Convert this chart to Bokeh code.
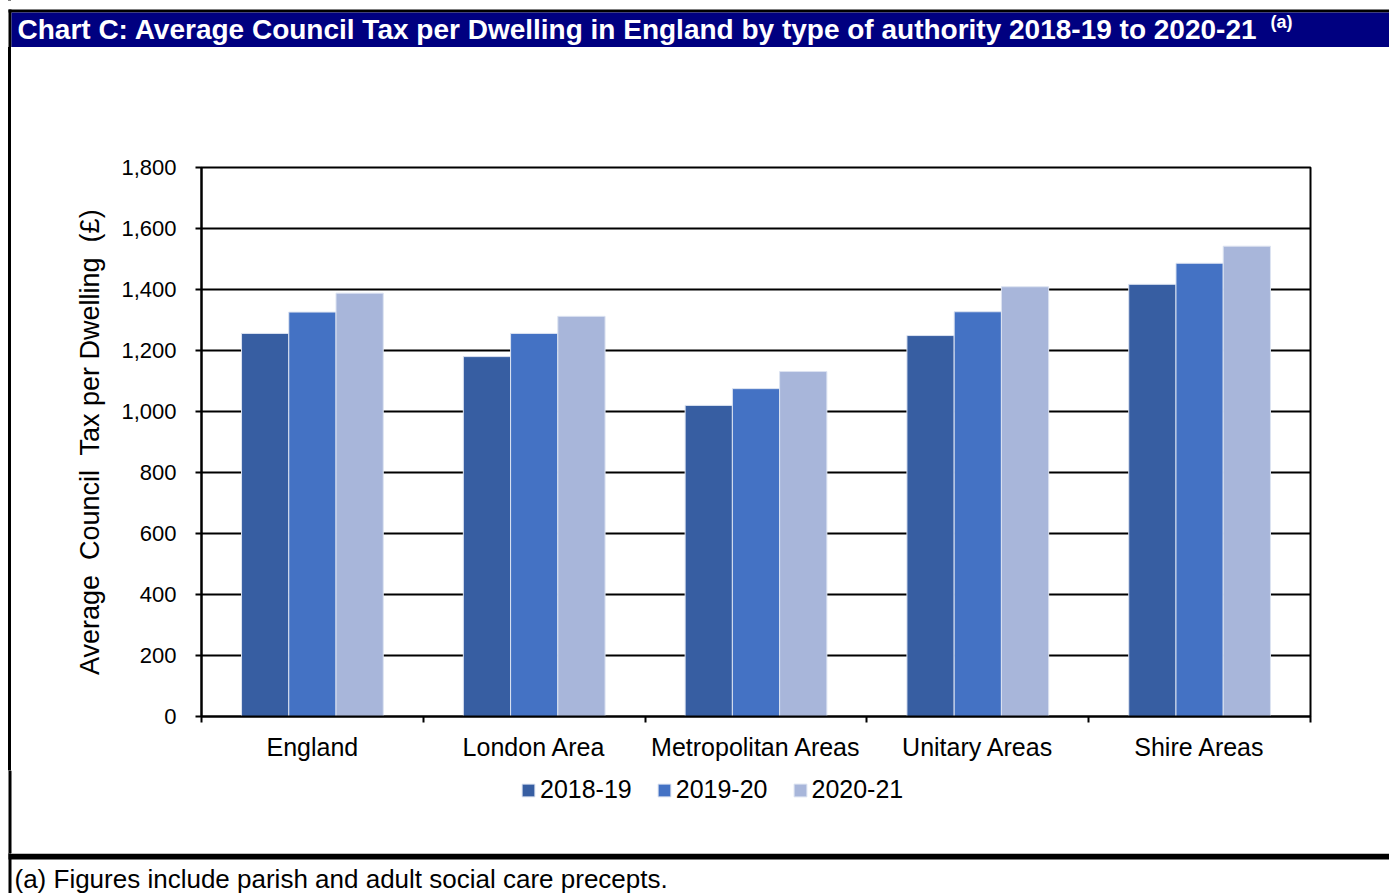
from bokeh.plotting import figure
from bokeh.layouts import column
from bokeh.models import (Range1d, FixedTicker, NumeralTickFormatter, Legend, LegendItem,
                          ColumnDataSource)
from bokeh.core.properties import value
from bokeh.embed import file_html
from bokeh.resources import INLINE

# ---- data ----
categories = ["England", "London Area", "Metropolitan Areas", "Unitary Areas", "Shire Areas"]
years = ["2018-19", "2019-20", "2020-21"]
v_2018_19 = [1256, 1180, 1020, 1249, 1417]
v_2019_20 = [1326, 1256, 1075, 1327, 1486]
v_2020_21 = [1388, 1312, 1131, 1409, 1542]
colors = ["#375EA2", "#4472C4", "#A8B6DA"]
y_ticks = [0, 200, 400, 600, 800, 1000, 1200, 1400, 1600, 1800]
title_text = "Chart C: Average Council Tax per Dwelling in England by type of authority 2018-19 to 2020-21"
y_label = "Average\u00a0 Council\u00a0 Tax per Dwelling\u00a0 (£)"
note_text = "(a) Figures include parish and adult social care precepts."

W, H = 1389, 893
TOP_H = 47          # title band bottom
MAIN_END = 770      # chart section bottom
BOT_Y = 853         # footer band start
BL, BR = 8, 11      # left border line x-extent
FL, FR, FT, FB = 201, 1310, 167, 716  # frame edges in canvas px


def deco_fig(h, y0):
    f = figure(width=W, height=h, x_range=Range1d(0, W), y_range=Range1d(y0 + h, y0),
               output_backend="svg", toolbar_location=None, title=None, frame_align=False,
               min_border=0, min_border_left=0, min_border_right=0,
               min_border_top=0, min_border_bottom=0)
    f.axis.visible = False
    f.grid.visible = False
    f.outline_line_color = None
    f.background_fill_color = "white"
    f.border_fill_color = "white"
    return f


def font_kw(size, bold=False):
    return dict(text_font=value("Liberation Sans"), text_font_size=value(size),
                text_font_style="bold" if bold else "normal", text_baseline="middle")


# ---- title band ----
top = deco_fig(TOP_H, 0)
top.quad(left=[BL, BL, BR], right=[W, BR, W], top=[9, 9, 12], bottom=[12, TOP_H, TOP_H],
         fill_color=["black", "black", "#000080"], line_color=None)
top.text(x=[17], y=[29], text=[title_text], text_color="white", **font_kw("28px", True))
top.text(x=[1270], y=[21], text=["(a)"], text_color="white", **font_kw("18px", True))

# ---- main chart ----
p = figure(width=W - BR, height=MAIN_END - TOP_H, x_range=Range1d(0, len(categories)),
           y_range=Range1d(0, 1800), output_backend="svg", toolbar_location=None, title=None,
           frame_align=False,
           min_border_left=FL - BR, min_border_right=W - FR,
           min_border_top=FT - TOP_H, min_border_bottom=MAIN_END - FB,
           margin=(0, 0, 0, BR))
p.background_fill_color = "white"
p.border_fill_color = "white"
p.outline_line_color = "black"
p.outline_line_width = 2

bw = 0.213
series = [v_2018_19, v_2019_20, v_2020_21]
sources = []
for k, (vals, col) in enumerate(zip(series, colors)):
    src = ColumnDataSource(dict(x=[i + 0.5 + (k - 1) * bw for i in range(len(categories))], top=vals))
    sources.append(src)
    p.vbar(x="x", top="top", width=bw, bottom=0, source=src, fill_color=col,
           line_color="#DCE3F1", line_width=1)

p.xgrid.grid_line_color = None
p.ygrid.ticker = FixedTicker(ticks=y_ticks)
p.ygrid.grid_line_color = "black"
p.ygrid.grid_line_width = 2

yax = p.yaxis[0]
yax.ticker = FixedTicker(ticks=y_ticks)
yax.formatter = NumeralTickFormatter(format="0,0")
yax.axis_line_color = "black"
yax.axis_line_width = 2
yax.major_tick_out = 6
yax.major_tick_in = 0
yax.major_tick_line_color = "black"
yax.major_tick_line_width = 2
yax.minor_tick_line_color = None
yax.major_label_text_font = "Liberation Sans"
yax.major_label_text_font_size = "22px"
yax.major_label_text_color = "black"
yax.major_label_standoff = 19
yax.axis_label = y_label
yax.axis_label_text_font = "Liberation Sans"
yax.axis_label_text_font_size = "27px"
yax.axis_label_text_font_style = "normal"
yax.axis_label_text_color = "black"
yax.axis_label_standoff = 13

xax = p.xaxis[0]
xax.ticker = FixedTicker(ticks=[i + 0.5 for i in range(len(categories))],
                         minor_ticks=list(range(len(categories) + 1)))
xax.major_label_overrides = {i + 0.5: c for i, c in enumerate(categories)}
xax.axis_line_color = "black"
xax.axis_line_width = 2
xax.major_tick_out = 0
xax.major_tick_in = 0
xax.major_tick_line_color = None
xax.minor_tick_out = 6
xax.minor_tick_in = 0
xax.minor_tick_line_color = "black"
xax.minor_tick_line_width = 2
xax.major_label_text_font = "Liberation Sans"
xax.major_label_text_font_size = "25px"
xax.major_label_text_color = "black"
xax.major_label_standoff = 10

# ---- legend band ----
leg = deco_fig(BOT_Y - MAIN_END, MAIN_END)
leg.quad(left=[BL], right=[BR], top=[MAIN_END], bottom=[BOT_Y], fill_color="black", line_color=None)
leg_renderers = []
for src, col in zip(sources, colors):
    leg_renderers.append(leg.vbar(x="x", top="top", width=1, source=src, fill_color=col,
                                  line_color="#DCE3F1", line_width=1, visible=False))
legend = Legend(items=[LegendItem(label=y, renderers=[r]) for y, r in zip(years, leg_renderers)],
                orientation="horizontal", location=(520, BOT_Y - 790 - 14),
                glyph_width=16, glyph_height=16, label_height=16, label_width=20,
                label_standoff=4, spacing=24, padding=0, margin=0,
                border_line_alpha=0, background_fill_alpha=0,
                label_text_font="Liberation Sans", label_text_font_size="25px",
                label_text_color="black")
leg.add_layout(legend, "center")

# ---- footer band ----
bot = deco_fig(H - BOT_Y, BOT_Y)
bot.quad(left=[BL, BL], right=[W, BR], top=[BOT_Y, BOT_Y], bottom=[859, H],
         fill_color="black", line_color=None)
bot.text(x=[14], y=[878], text=[note_text], text_color="black", **font_kw("26px"))

layout = column(top, p, leg, bot, spacing=0,
                styles={"background": "linear-gradient(to right, #fff 0px, #fff 8px, #000 8px, #000 11px, #fff 11px)"})
open("out.html", "w").write(file_html(layout, INLINE))
